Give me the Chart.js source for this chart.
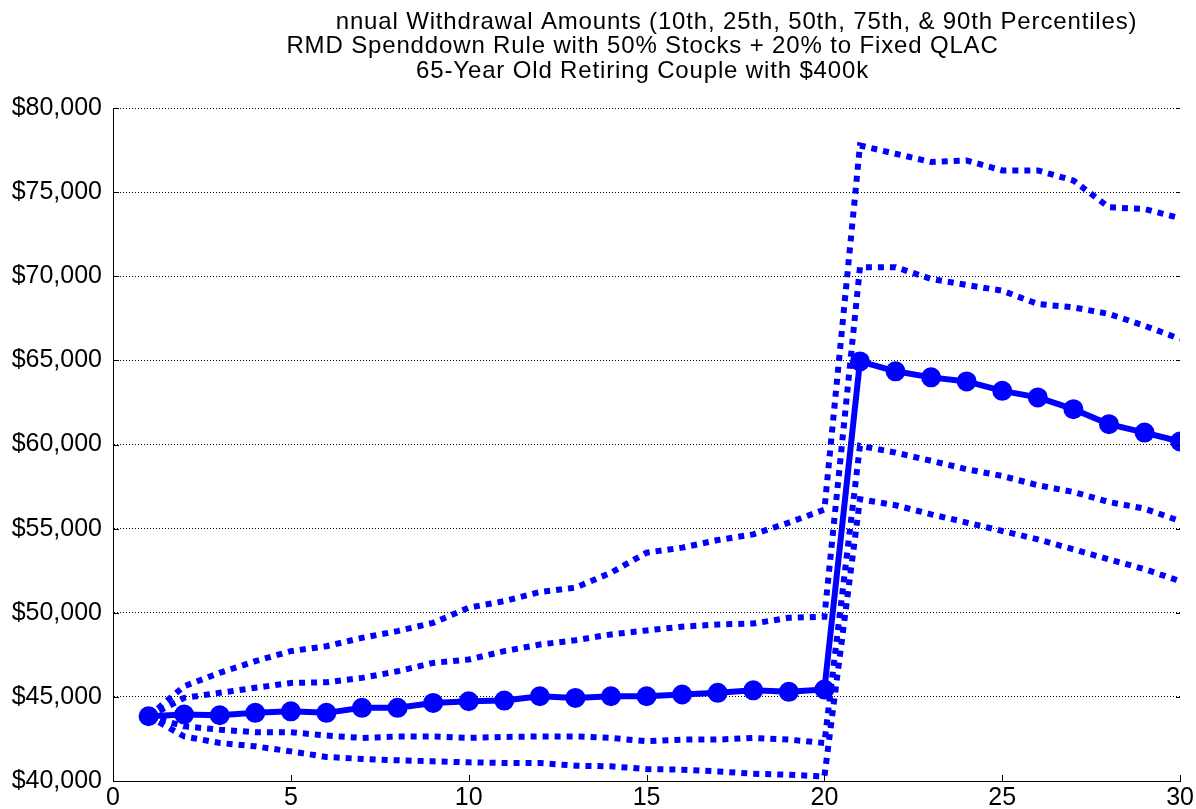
<!DOCTYPE html>
<html>
<head>
<meta charset="utf-8">
<script src="https://cdn.jsdelivr.net/npm/chart.js@4/dist/chart.umd.min.js"></script>
<style>
    html, body { margin: 0; padding: 0; background: #fff; }
    #wrap { width: 1196px; height: 809px; }
</style>
</head>
<body>
<div id="wrap"><canvas id="withdrawalChart" width="1196" height="809"></canvas></div>
<script>
// years in retirement
const years = [1, 2, 3, 4, 5, 6, 7, 8, 9, 10, 11, 12, 13, 14, 15, 16, 17, 18, 19, 20, 21, 22, 23, 24, 25, 26, 27, 28, 29, 30];

// withdrawal percentiles
const p10 = [43850, 42650, 42260, 42060, 41760, 41430, 41310, 41230, 41170, 41110, 41070, 41070, 40910, 40870, 40710, 40670, 40570, 40430, 40370, 40270,
    56750, 56390, 55850, 55360, 54860, 54360, 53770, 53170, 52590, 51880];
const p25 = [43850, 43250, 43050, 42900, 42900, 42700, 42560, 42650, 42650, 42560, 42620, 42650, 42650, 42560, 42360, 42460, 42460, 42560, 42460, 42260,
    59920, 59520, 59030, 58530, 58130, 57580, 57180, 56580, 56190, 55450];
const p50 = [43850, 43950, 43910, 44050, 44140, 44050, 44350, 44350, 44640, 44740, 44780, 45040, 44940, 45040, 45040, 45140, 45240, 45390, 45300, 45440,
    64940, 64350, 63990, 63750, 63190, 62800, 62100, 61210, 60710, 60180];
const p75 = [43850, 44940, 45240, 45540, 45830, 45870, 46130, 46520, 47020, 47220, 47720, 48110, 48370, 48710, 48950, 49170, 49300, 49360, 49700, 49760,
    70540, 70540, 69840, 69480, 69140, 68350, 68150, 67760, 67060, 66270];
const p90 = [43850, 45630, 46430, 47120, 47720, 48010, 48510, 48910, 49400, 50300, 50690, 51230, 51490, 52380, 53570, 53870, 54320, 54660, 55360, 56130,
    77770, 77280, 76790, 76880, 76290, 76290, 75690, 74100, 74000, 73450];

// axis ticks
const xTicks = [0, 5, 10, 15, 20, 25, 30];
const yTicks = [40000, 45000, 50000, 55000, 60000, 65000, 70000, 75000, 80000];

const titleLines = [
    'nnual Withdrawal Amounts (10th, 25th, 50th, 75th, & 90th Percentiles)',
    'RMD Spenddown Rule with 50% Stocks + 20% to Fixed QLAC',
    '65-Year Old Retiring Couple with $400k'
];

const BLUE = '#0000ff';
const FONT = '"Liberation Sans", Arial, Helvetica, sans-serif';

function toPoints(values) {
    return years.map((yr, i) => ({ x: yr, y: values[i] }));
}

function dottedSet(label, values) {
    return {
        label: label,
        data: toPoints(values),
        borderColor: BLUE,
        borderWidth: 6,
        borderDash: [6, 6],
        borderCapStyle: 'butt',
        borderJoinStyle: 'miter',
        pointRadius: 0,
        tension: 0,
        fill: false
    };
}

// title lines, drawn above the plot
const titlePlugin = {
    id: 'matlabTitle',
    afterDraw(chart) {
        const ctx = chart.ctx;
        const area = chart.chartArea;
        const mid = (area.left + area.right) / 2;
        ctx.save();
        ctx.fillStyle = '#000';
        ctx.font = '24px ' + FONT;
        ctx.letterSpacing = '0.85px';
        ctx.textAlign = 'center';
        ctx.textBaseline = 'alphabetic';
        ctx.fillText(titleLines[0], mid + 90, 29);
        ctx.fillText(titleLines[1], mid - 4, 53);
        ctx.fillText(titleLines[2], mid - 4, 78);
        ctx.restore();
    }
};

// small inward tick marks like the original plot
const innerTicks = {
    id: 'innerTicks',
    afterDatasetsDraw(chart) {
        const ctx = chart.ctx;
        const area = chart.chartArea;
        const xs = chart.scales.x;
        const ys = chart.scales.y;
        ctx.save();
        ctx.strokeStyle = '#000';
        ctx.lineWidth = 1;
        ctx.beginPath();
        xTicks.forEach(t => {
            const px = Math.round(xs.getPixelForValue(t)) + 0.5;
            ctx.moveTo(px, area.bottom);
            ctx.lineTo(px, area.bottom - 6);
        });
        yTicks.forEach(t => {
            const py = Math.round(ys.getPixelForValue(t)) + 0.5;
            ctx.moveTo(area.left, py);
            ctx.lineTo(area.left + 6, py);
            ctx.moveTo(area.right, py);
            ctx.lineTo(area.right - 4, py);
        });
        ctx.stroke();
        ctx.restore();
    }
};

const ctx = document.getElementById('withdrawalChart');
new Chart(ctx, {
    type: 'line',
    data: {
        datasets: [
            {
                label: '50th',
                data: toPoints(p50),
                borderColor: BLUE,
                borderWidth: 6,
                pointRadius: 9,
                pointStyle: 'circle',
                pointBackgroundColor: BLUE,
                pointBorderColor: BLUE,
                pointBorderWidth: 2,
                tension: 0,
                fill: false
            },
            dottedSet('90th', p90),
            dottedSet('75th', p75),
            dottedSet('25th', p25),
            dottedSet('10th', p10)
        ]
    },
    options: {
        responsive: false,
        animation: false,
        devicePixelRatio: 1,
        layout: { padding: { left: 0, right: 15, top: 108, bottom: 0 } },
        plugins: {
            legend: { display: false },
            title: { display: false },
            tooltip: { enabled: false }
        },
        scales: {
            x: {
                type: 'linear',
                min: 0,
                max: 30,
                afterBuildTicks: scale => { scale.ticks = xTicks.map(v => ({ value: v })); },
                afterFit: scale => { scale.height = 28; },
                grid: { display: false, drawTicks: false },
                border: { display: true, color: '#000', width: 1, dash: [1, 1] },
                ticks: {
                    color: '#000',
                    padding: 2,
                    maxRotation: 0,
                    font: { family: FONT, size: 25 }
                }
            },
            y: {
                type: 'linear',
                min: 40000,
                max: 80000,
                afterBuildTicks: scale => { scale.ticks = yTicks.map(v => ({ value: v })); },
                afterFit: scale => { scale.width = 113; },
                grid: {
                    color: '#000',
                    lineWidth: 1,
                    drawTicks: false
                },
                border: { display: true, color: '#000', width: 1, dash: [1, 2] },
                ticks: {
                    color: '#000',
                    padding: 11,
                    font: { family: FONT, size: 25 },
                    callback: v => '$' + v.toLocaleString('en-US')
                }
            }
        }
    },
    plugins: [titlePlugin, innerTicks]
});
</script>
</body>
</html>
